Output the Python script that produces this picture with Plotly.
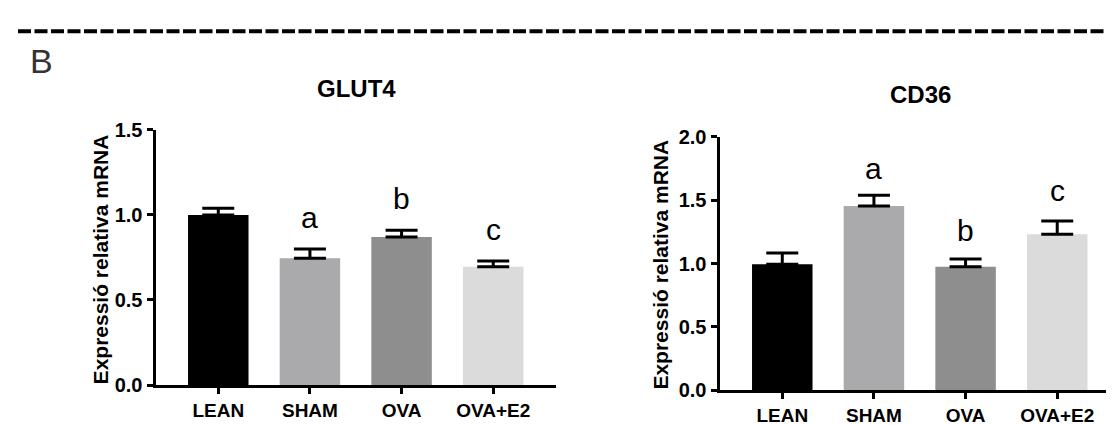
import plotly.graph_objects as go

categories = ["LEAN", "SHAM", "OVA", "OVA+E2"]
glut4_values = [1.00, 0.745, 0.87, 0.695]
glut4_errors = [0.04, 0.055, 0.04, 0.035]
glut4_letters = ["", "a", "b", "c"]
cd36_values = [0.995, 1.453, 0.975, 1.23]
cd36_errors = [0.088, 0.085, 0.06, 0.105]
cd36_letters = ["", "a", "b", "c"]
bar_colors = ["#000000", "#aaaaad", "#8e8e8e", "#dbdbdb"]
glut4_ticks = [0, 0.5, 1.0, 1.5]
cd36_ticks = [0, 0.5, 1.0, 1.5, 2.0]

# style: pixel gap between error-bar cap and letter
glut4_letter_gap = [0, 21, 21, 21]
cd36_letter_gap = [0, 16, 18, 20]

W, H = 1114, 425
FONT = "Liberation Sans, Arial, Helvetica, sans-serif"

fig = go.Figure()

fig.add_trace(go.Bar(
    x=categories, y=glut4_values, marker=dict(color=bar_colors, line=dict(width=0)),
    width=0.66, xaxis="x", yaxis="y",
    error_y=dict(type="data", array=glut4_errors, arrayminus=[0]*4, symmetric=False,
                 color="#000000", thickness=3, width=16),
    showlegend=False, hoverinfo="x+y"))
fig.add_trace(go.Bar(
    x=categories, y=cd36_values, marker=dict(color=bar_colors, line=dict(width=0)),
    width=0.66, xaxis="x2", yaxis="y2",
    error_y=dict(type="data", array=cd36_errors, arrayminus=[0]*4, symmetric=False,
                 color="#000000", thickness=3, width=16),
    showlegend=False, hoverinfo="x+y"))

axis_common = dict(showline=True, linecolor="#000000", linewidth=3, ticks="outside",
                   ticklen=6, tickwidth=3, tickcolor="#000000", showgrid=False,
                   zeroline=False, fixedrange=True)
xfont = dict(family=FONT, size=19, color="#000000", weight="bold")
yfont = dict(family=FONT, size=20, color="#000000", weight="bold")

fig.update_layout(
    width=W, height=H, autosize=False,
    margin=dict(l=0, r=0, t=0, b=0),
    paper_bgcolor="#ffffff", plot_bgcolor="#ffffff",
    xaxis=dict(domain=[147.5 / W, 548 / W], anchor="y", range=[-0.685, 3.685],
               tickfont=xfont, **axis_common),
    yaxis=dict(domain=[1 - 386 / H, 1 - 117 / H], anchor="x", range=[0, 1.5],
               tickvals=glut4_ticks, tickformat=".1f", tickfont=yfont, **axis_common),
    xaxis2=dict(domain=[711.5 / W, 1112 / W], anchor="y2", range=[-0.685, 3.685],
                tickfont=xfont, **axis_common),
    yaxis2=dict(domain=[1 - 391.7 / H, 1 - 124 / H], anchor="x2", range=[0, 2.0],
                tickvals=cd36_ticks, tickformat=".1f", tickfont=yfont, **axis_common),
)

ann = []
# panel letter
ann.append(dict(text="B", xref="paper", yref="paper", x=20 / W, y=1 - 44 / H,
                xanchor="left", yanchor="middle", showarrow=False,
                font=dict(family=FONT, size=34, color="#333333")))
# panel titles
ann.append(dict(text="GLUT4", xref="paper", yref="paper", x=348 / W, y=1 - 73 / H,
                xanchor="center", yanchor="middle", showarrow=False,
                font=dict(family=FONT, size=24, color="#000000", weight="bold")))
ann.append(dict(text="CD36", xref="paper", yref="paper", x=912 / W, y=1 - 80 / H,
                xanchor="center", yanchor="middle", showarrow=False,
                font=dict(family=FONT, size=24, color="#000000", weight="bold")))
# y-axis titles
for xc, yc in [(92, 253.5), (653, 259)]:
    ann.append(dict(text="Expressió relativa mRNA", xref="paper", yref="paper",
                    x=xc / W, y=1 - yc / H, xanchor="center", yanchor="middle",
                    textangle=-90, showarrow=False,
                    font=dict(family=FONT, size=21, color="#000000", weight="bold")))
# significance letters
for xr, yr, vals, errs, letters, gaps in [
        ("x", "y", glut4_values, glut4_errors, glut4_letters, glut4_letter_gap),
        ("x2", "y2", cd36_values, cd36_errors, cd36_letters, cd36_letter_gap)]:
    for c, v, e, l, g in zip(categories, vals, errs, letters, gaps):
        if l:
            ann.append(dict(text=l, xref=xr, yref=yr, x=c, y=v + e,
                            xanchor="center", yanchor="bottom", yshift=g - 8, showarrow=False,
                            font=dict(family=FONT, size=30, color="#000000")))
fig.update_layout(annotations=ann)

# dashed separator
fig.add_shape(type="line", xref="paper", yref="paper", x0=10 / W, x1=1, y0=1 - 13 / H, y1=1 - 13 / H,
              line=dict(color="#000000", width=4, dash="13px,3.5px"))

fig.write_html("out.html")
